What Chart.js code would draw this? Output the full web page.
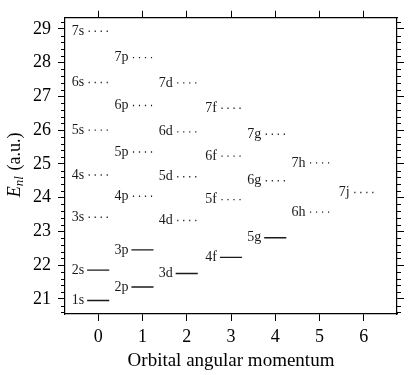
<!DOCTYPE html>
<html>
<head>
<meta charset="utf-8">
<script src="https://cdn.jsdelivr.net/npm/chart.js@4.4.1/dist/chart.umd.min.js"></script>
<style>
  body { margin: 0; background: #fff; }
</style>
</head>
<body>
<canvas id="levels" width="409" height="375"></canvas>
<script>
// orbital angular momentum l and its letter
const momenta = [0, 1, 2, 3, 4, 5, 6];
const letters = ['s', 'p', 'd', 'f', 'g', 'h', 'j'];

// E_nl (a.u.) for n = l+1 ... 7
const sLevels = [20.95, 21.85, 23.42, 24.67, 26.00, 27.41, 28.93];
const pLevels = [21.35, 22.45, 24.04, 25.35, 26.73, 28.15];
const dLevels = [21.75, 23.32, 24.62, 25.95, 27.40];
const fLevels = [22.23, 23.94, 25.23, 26.65];
const gLevels = [22.81, 24.50, 25.88];
const hLevels = [23.57, 25.03];
const jLevels = [24.15];

// levels drawn with a solid line, the rest are dotted
const filled = ['1s', '2s', '2p', '3p', '3d', '4f', '5g'];

const xTicks = [0, 1, 2, 3, 4, 5, 6];
const yTicks = [21, 22, 23, 24, 25, 26, 27, 28, 29];

const FONT = '"Liberation Serif", "DejaVu Serif", serif';
const allLevels = [sLevels, pLevels, dLevels, fLevels, gLevels, hLevels, jLevels];

const datasets = [];
momenta.forEach((l, li) => {
  allLevels[li].forEach((e, i) => {
    const name = (l + 1 + i) + letters[li];
    const solid = filled.includes(name);
    datasets.push({
      label: name,
      data: [{ x: l - 0.25, y: e }, { x: l + 0.25, y: e }],
      showLine: true,
      pointRadius: 0,
      borderColor: '#1a1a1a',
      borderWidth: solid ? 1.3 : 1.4,
      borderDash: solid ? [] : [1.2, 4.8],
      borderDashOffset: solid ? 0 : -1.5,
    });
  });
});

// level names written just left of each line
const levelLabels = {
  id: 'levelLabels',
  afterDatasetsDraw(chart) {
    const ctx = chart.ctx;
    ctx.save();
    ctx.font = '14px ' + FONT;
    ctx.fillStyle = '#1a1a1a';
    ctx.textAlign = 'right';
    ctx.textBaseline = 'middle';
    chart.data.datasets.forEach((ds, i) => {
      const pt = chart.getDatasetMeta(i).data[0];
      ctx.fillText(ds.label, pt.x - 3, pt.y);
    });
    ctx.restore();
  }
};

// minor ticks every 0.2 on left and right axes
const minorTicks = {
  id: 'minorTicks',
  afterDraw(chart) {
    const ctx = chart.ctx;
    const y = chart.scales.y;
    const area = chart.chartArea;
    ctx.save();
    ctx.strokeStyle = '#000';
    ctx.lineWidth = 1;
    for (let k = 103; k <= 146; k++) {
      if (k % 5 === 0) continue;
      const py = Math.round(y.getPixelForValue(k / 5)) + 0.5;
      ctx.beginPath();
      ctx.moveTo(area.left - 4, py);
      ctx.lineTo(area.left, py);
      ctx.moveTo(area.right, py);
      ctx.lineTo(area.right + 4, py);
      ctx.stroke();
    }
    ctx.restore();
  }
};

// y axis title with subscript
const yTitle = {
  id: 'yTitle',
  afterDraw(chart) {
    const ctx = chart.ctx;
    const area = chart.chartArea;
    const big = '18px ' + FONT;
    const bigIt = 'italic 18px ' + FONT;
    const small = 'italic 13px ' + FONT;
    ctx.save();
    ctx.fillStyle = '#000';
    ctx.textBaseline = 'alphabetic';
    ctx.textAlign = 'left';
    ctx.font = bigIt; const wE = ctx.measureText('E').width;
    ctx.font = small; const wS = ctx.measureText('nl').width;
    ctx.font = big; const wR = ctx.measureText(' (a.u.)').width;
    const total = wE + wS + 1 + wR;
    ctx.translate(20, (area.top + area.bottom) / 2 - 1);
    ctx.rotate(-Math.PI / 2);
    let x = -total / 2;
    ctx.font = bigIt; ctx.fillText('E', x, 0); x += wE;
    ctx.font = small; ctx.fillText('nl', x, 3); x += wS + 1;
    ctx.font = big; ctx.fillText(' (a.u.)', x, 0);
    ctx.restore();
  }
};

const fixTicks = (vals) => (axis) => { axis.ticks = vals.map(v => ({ value: v })); };

new Chart(document.getElementById('levels'), {
  type: 'scatter',
  data: { datasets },
  options: {
    responsive: false,
    animation: false,
    layout: { padding: 0 },
    plugins: { legend: { display: false }, tooltip: { enabled: false } },
    scales: {
      x: {
        type: 'linear', position: 'bottom', min: -0.75, max: 6.75,
        afterBuildTicks: fixTicks(xTicks),
        afterFit: (s) => { s.height = 61; },
        grid: { drawOnChartArea: false, tickLength: 7, color: '#000' },
        border: { color: '#000', width: 1.2 },
        ticks: { color: '#000', font: { family: FONT, size: 18 }, padding: 5 },
        title: { display: true, text: 'Orbital angular momentum', color: '#000',
                 font: { family: FONT, size: 19 }, padding: { top: 0, bottom: 3 } }
      },
      x2: {
        type: 'linear', position: 'top', min: -0.75, max: 6.75,
        afterBuildTicks: fixTicks(xTicks),
        afterFit: (s) => { s.height = 12; },
        grid: { drawOnChartArea: false, tickLength: 7, color: '#000' },
        border: { color: '#000', width: 1.2 },
        ticks: { display: false }
      },
      y: {
        type: 'linear', position: 'left', min: 20.55, max: 29.33,
        afterBuildTicks: fixTicks(yTicks),
        afterFit: (s) => { s.width = 65; },
        grid: { drawOnChartArea: false, tickLength: 7, color: '#000' },
        border: { color: '#000', width: 1.2 },
        ticks: { color: '#000', font: { family: FONT, size: 18 }, padding: 7 }
      },
      y2: {
        type: 'linear', position: 'right', min: 20.55, max: 29.33,
        afterBuildTicks: fixTicks(yTicks),
        afterFit: (s) => { s.width = 12; },
        grid: { drawOnChartArea: false, tickLength: 7, color: '#000' },
        border: { color: '#000', width: 1.2 },
        ticks: { display: false }
      }
    }
  },
  plugins: [levelLabels, minorTicks, yTitle]
});
</script>
</body>
</html>
